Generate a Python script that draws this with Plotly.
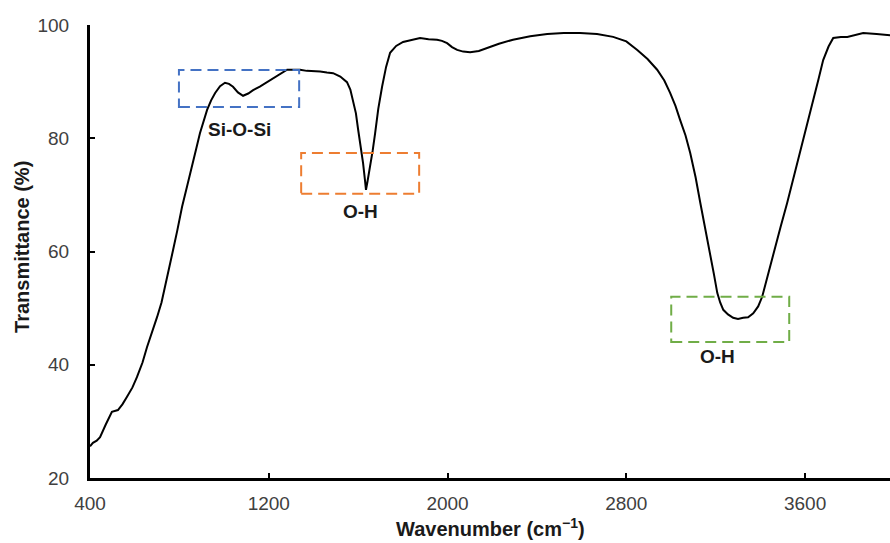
import plotly.graph_objects as go

# FTIR spectrum: wavenumber (cm^-1) vs transmittance (%)
wavenumber = [
    400, 413, 430, 445, 470, 498, 525, 545, 565, 590, 610, 635, 655, 680, 700,
    720, 736, 755, 772, 790, 812, 835, 857, 875, 892, 910, 924, 942, 960, 982,
    1004, 1022, 1040, 1062, 1085, 1108, 1130, 1160, 1192, 1215, 1237, 1260, 1282,
    1310, 1340, 1370, 1398, 1430, 1460, 1488, 1520, 1550, 1565, 1577, 1590, 1600,
    1612, 1622, 1630, 1635, 1642, 1653, 1665, 1676, 1690, 1707, 1725, 1743, 1770,
    1801, 1840, 1877, 1915, 1953, 1975, 1998, 2020, 2043, 2070, 2101, 2140, 2177,
    2230, 2293, 2370, 2446, 2520, 2593, 2669, 2741, 2800, 2849, 2895, 2938, 2970,
    2996, 3020, 3041, 3065, 3086, 3110, 3131, 3155, 3175, 3192, 3207, 3220, 3234,
    3255, 3278, 3300, 3323, 3345, 3368, 3390, 3408, 3432, 3457, 3490, 3520, 3550,
    3578, 3608, 3636, 3660, 3681, 3705, 3726, 3760, 3789, 3825, 3860, 3920, 3981,
]
transmittance = [
    25.6, 26.2, 26.6, 27.2, 29.4, 31.7, 32.0, 33.0, 34.3, 36.0, 37.8, 40.4, 43.1,
    45.9, 48.4, 51.0, 53.7, 56.9, 60.3, 63.6, 67.9, 71.6, 74.9, 78.1, 80.9, 83.2,
    85.0, 86.7, 88.0, 89.2, 89.8, 89.6, 89.1, 88.1, 87.5, 87.9, 88.5, 89.1, 89.9,
    90.4, 91.0, 91.6, 92.1, 92.1, 92.1, 91.9, 91.9, 91.8, 91.6, 91.5, 90.9, 89.9,
    88.6, 86.8, 84.4, 81.5, 78.4, 75.6, 72.8, 70.9, 72.4, 74.9, 77.8, 80.9, 85.2,
    89.1, 92.6, 95.1, 96.3, 97.0, 97.4, 97.7, 97.5, 97.4, 97.2, 96.8, 96.1, 95.6,
    95.3, 95.2, 95.4, 95.9, 96.7, 97.4, 98.0, 98.4, 98.6, 98.6, 98.4, 97.9, 97.1,
    95.6, 94.0, 92.1, 90.2, 88.0, 85.7, 83.2, 80.5, 77.4, 73.1, 68.6, 63.8, 59.7,
    56.0, 52.7, 51.0, 49.7, 48.9, 48.3, 48.1, 48.3, 48.4, 49.1, 50.3, 52.0, 55.6,
    59.7, 64.3, 68.6, 73.2, 77.4, 82.0, 86.2, 90.4, 93.8, 96.2, 97.7, 97.9, 97.9,
    98.2, 98.6, 98.4, 98.2,
]

# Highlighted absorption bands
band_labels = ["Si-O-Si", "O-H", "O-H"]
band_x0 = [798, 1345, 3001]
band_x1 = [1336, 1873, 3529]
band_y0 = [85.5, 70.2, 44.0]
band_y1 = [92.05, 77.4, 52.0]
band_colors = ["#4472C4", "#ED7D31", "#70AD47"]
label_x = [1067, 1609, 3207]
label_y = [81.6, 67.0, 41.5]

x_ticks = [400, 1200, 2000, 2800, 3600]
y_ticks = [20, 40, 60, 80, 100]

FONT = "Arial, 'Liberation Sans', sans-serif"
TEXT_DARK = "#1a1a1a"

fig = go.Figure()
fig.add_trace(go.Scatter(
    x=wavenumber, y=transmittance, mode="lines",
    line=dict(color="black", width=2),
    showlegend=False, hoverinfo="skip",
))

for name, x0, x1, y0, y1, col, lx, ly in zip(
        band_labels, band_x0, band_x1, band_y0, band_y1,
        band_colors, label_x, label_y):
    fig.add_shape(type="rect", xref="x", yref="y", x0=x0, x1=x1, y0=y0, y1=y1,
                  line=dict(color=col, width=2, dash="11px,6px"),
                  fillcolor="rgba(0,0,0,0)")
    fig.add_annotation(x=lx, y=ly, xref="x", yref="y", text=f"<b>{name}</b>",
                       showarrow=False,
                       font=dict(family=FONT, size=19, color=TEXT_DARK))

# Axis titles placed as paper-anchored annotations
fig.add_annotation(xref="paper", yref="paper", x=0.5, y=-0.110,
                   xanchor="center", yanchor="middle",
                   text="<b>Wavenumber (cm<sup>−1</sup>)</b>", showarrow=False,
                   font=dict(family=FONT, size=20, color=TEXT_DARK))
fig.add_annotation(xref="paper", yref="paper", x=-0.085, y=0.51,
                   xanchor="center", yanchor="middle",
                   text="<b>Transmittance (%)</b>", textangle=-90,
                   showarrow=False,
                   font=dict(family=FONT, size=20, color=TEXT_DARK))

fig.update_layout(
    width=890, height=543,
    margin=dict(l=90, r=0, t=25, b=65),
    paper_bgcolor="white", plot_bgcolor="white",
    font=dict(family=FONT),
)
fig.update_xaxes(
    range=[400, 3980], tickvals=x_ticks, showgrid=False, zeroline=False,
    showline=True, linecolor="black", linewidth=3,
    ticks="inside", ticklen=5, tickwidth=2, tickcolor="black",
    ticklabelstandoff=6,
    tickfont=dict(family=FONT, size=19, color="#404040"),
)
fig.update_yaxes(
    range=[20, 100], tickvals=y_ticks, showgrid=False, zeroline=False,
    showline=True, linecolor="black", linewidth=3,
    ticks="inside", ticklen=5, tickwidth=2, tickcolor="black",
    ticklabelstandoff=14,
    tickfont=dict(family=FONT, size=19, color="#404040"),
)

fig.write_html("out.html")
